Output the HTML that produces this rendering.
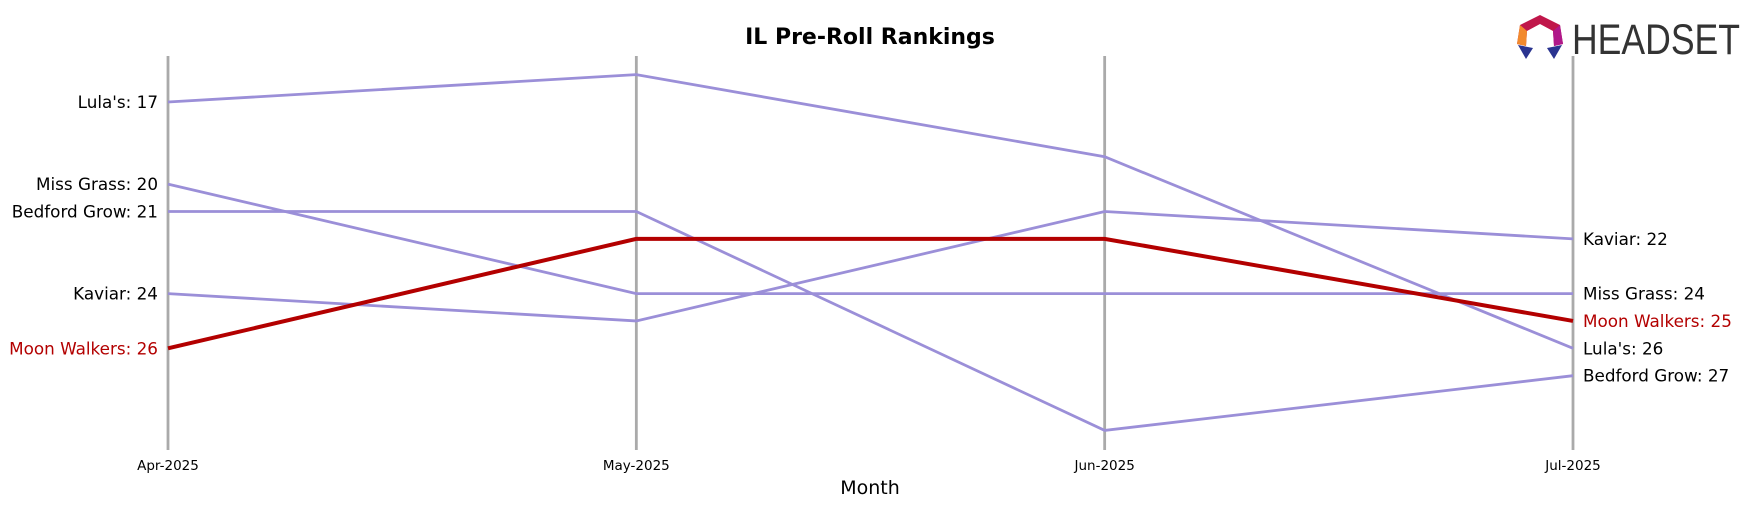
<!DOCTYPE html>
<html><head><meta charset="utf-8"><style>
html,body{margin:0;padding:0;width:1756px;height:507px;overflow:hidden;background:#fff;font-family:"DejaVu Sans",sans-serif}
svg{display:block}
</style></head><body>
<svg width="1756" height="507" viewBox="0 0 1756 507" xmlns="http://www.w3.org/2000/svg" id="chart" font-family="DejaVu Sans, Liberation Sans, sans-serif">
<text x="870" y="44" text-anchor="middle" font-size="22" font-weight="bold">IL Pre-Roll Rankings</text>
<g>
<polygon points="1540,15 1560,25 1563,44 1554,46 1553,31 1540,24 1527,31 1526,46 1517,44 1520,25" fill="#c0174a"/>
<polygon points="1520,25 1527,31 1526,46 1517,44" fill="#f28a2e"/>
<polygon points="1560,25 1553,31 1554,46 1563,44" fill="#b0188a"/>
<polygon points="1518,45 1533,48 1526,59" fill="#2a3490"/>
<polygon points="1562,45 1547,48 1554,59" fill="#2a3490"/>
<text x="1572" y="54" font-size="43" fill="#333" font-family="Liberation Sans, sans-serif" textLength="168" lengthAdjust="spacingAndGlyphs">HEADSET</text>
</g>
<g id="axes"></g>
<g id="series"></g>
<text x="870" y="494" text-anchor="middle" font-size="19">Month</text>
</svg>
<script>
const months=["Apr-2025","May-2025","Jun-2025","Jul-2025"];
const brands=["Lula's","Miss Grass","Bedford Grow","Kaviar","Moon Walkers"];
const lulas=[17,16,19,26];
const missGrass=[20,24,24,24];
const bedford=[21,21,29,27];
const kaviar=[24,25,21,22];
const moonWalkers=[26,22,22,25];
const series=[lulas,missGrass,bedford,kaviar,moonWalkers];
const highlight="Moon Walkers";
const NS="http://www.w3.org/2000/svg";
const x=i=>168+i*(1573-168)/(months.length-1);
const y=r=>102+(r-17)*27.37;
const ax=document.getElementById('axes'),sg=document.getElementById('series');
function mk(tag,attrs,parent){const e=document.createElementNS(NS,tag);for(const k in attrs)e.setAttribute(k,attrs[k]);parent.appendChild(e);return e;}
months.forEach((m,i)=>{
 const l=mk('line',{x1:x(i),x2:x(i),y1:56,y2:450,stroke:'#aaa','stroke-width':2.8},ax);
 
 
 const t=mk('text',{x:x(i),y:470,'text-anchor':'middle','font-size':13.5},ax);
 
 
 t.textContent=m;
});
const order=brands.map((b,i)=>i).sort((a,b)=>(brands[a]===highlight)-(brands[b]===highlight));
order.forEach(k=>{
 const b=brands[k],v=series[k],hl=b===highlight;
 const col=hl?'#b30000':'#9b8fd8';
 const p=mk('polyline',{points:v.map((r,i)=>x(i)+','+y(r)).join(' '),fill:'none',stroke:col,'stroke-width':hl?4:2.8},sg);
 
 
 const tc=hl?'#b30000':'#000';
 const t1=mk('text',{x:x(0)-10,y:y(v[0])+6,'text-anchor':'end','font-size':16.8,fill:tc},sg);
 
 
 t1.textContent=b+': '+v[0];
 const n=v.length-1;
 const t2=mk('text',{x:x(n)+10,y:y(v[n])+6,'font-size':16.8,fill:tc},sg);
 
 
 t2.textContent=b+': '+v[n];
});
</script>
</body></html>
